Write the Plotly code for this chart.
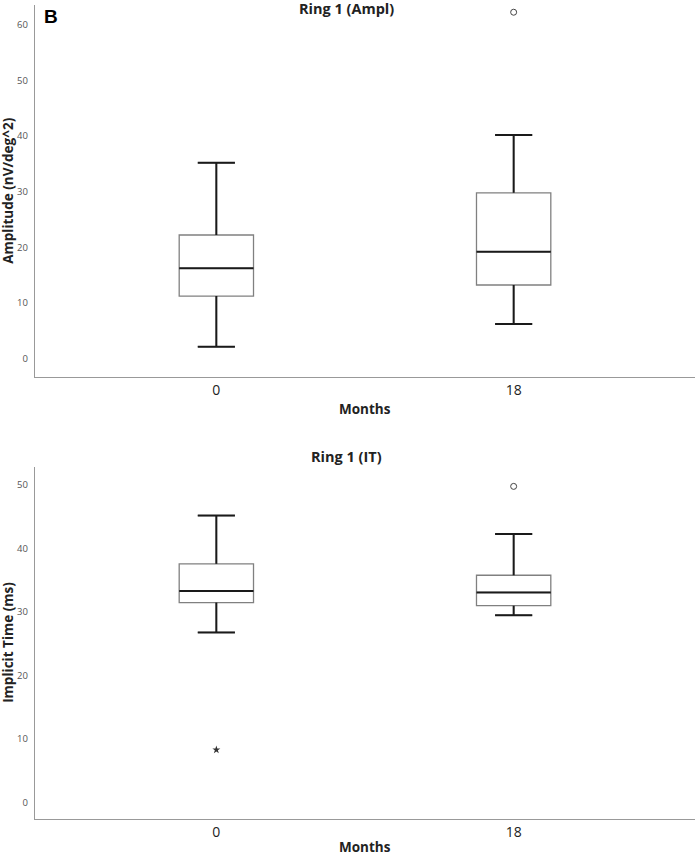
import plotly.graph_objects as go

# ---- data ----
months = ["0", "18"]
# Ring 1 (Ampl)
ampl_low = [2.1, 6.2]
ampl_q1 = [11.2, 13.2]
ampl_med = [16.2, 19.2]
ampl_q3 = [22.2, 29.8]
ampl_high = [35.2, 40.2]
ampl_outliers = [None, 62.3]
ampl_extremes = [None, None]
# Ring 1 (IT)
it_low = [26.8, 29.5]
it_q1 = [31.5, 31.0]
it_med = [33.3, 33.1]
it_q3 = [37.6, 35.8]
it_high = [45.2, 42.3]
it_outliers = [None, 49.8]
it_extremes = [8.3, None]

BOX_W = 0.25
CAP_HALF = BOX_W / 4

fig = go.Figure()


def add_panel(low, q1, med, q3, high, outl, extr, xa, ya):
    xs = list(range(len(months)))
    fig.add_trace(go.Box(
        x=xs, q1=q1, median=med, q3=q3, lowerfence=low, upperfence=high,
        width=BOX_W, whiskerwidth=0.5, fillcolor="white",
        line=dict(color="#808080", width=1.3), boxpoints=False,
        xaxis=xa, yaxis=ya, showlegend=False, hoverinfo="skip"))
    wx, wy = [], []
    for i in xs:
        wx += [i, i, None, i, i, None]
        wy += [q3[i], high[i], None, q1[i], low[i], None]
        wx += [i - CAP_HALF, i + CAP_HALF, None, i - CAP_HALF, i + CAP_HALF, None]
        wy += [high[i], high[i], None, low[i], low[i], None]
        wx += [i - BOX_W / 2, i + BOX_W / 2, None]
        wy += [med[i], med[i], None]
    fig.add_trace(go.Scatter(x=wx, y=wy, mode="lines",
                             line=dict(color="#1a1a1a", width=2),
                             xaxis=xa, yaxis=ya, showlegend=False, hoverinfo="skip"))
    ox = [i for i in xs if outl[i] is not None]
    oy = [outl[i] for i in xs if outl[i] is not None]
    if ox:
        fig.add_trace(go.Scatter(x=ox, y=oy, mode="markers",
                                 marker=dict(symbol="circle-open", size=6, color="#444",
                                             line=dict(width=1)),
                                 xaxis=xa, yaxis=ya, showlegend=False, cliponaxis=False))
    ex = [i for i in xs if extr[i] is not None]
    ey = [extr[i] for i in xs if extr[i] is not None]
    if ex:
        fig.add_trace(go.Scatter(x=ex, y=ey, mode="markers",
                                 marker=dict(symbol="star", size=6, color="#333"),
                                 xaxis=xa, yaxis=ya, showlegend=False))


add_panel(ampl_low, ampl_q1, ampl_med, ampl_q3, ampl_high, ampl_outliers, ampl_extremes, "x", "y")
add_panel(it_low, it_q1, it_med, it_q3, it_high, it_outliers, it_extremes, "x2", "y2")

xcommon = dict(range=[-0.61, 1.61], tickvals=[0, 1], ticktext=months,
               showgrid=False, zeroline=False, showline=True, linecolor="#999999",
               linewidth=1.3, ticks="", tickfont=dict(family="Open Sans", size=14, color="#222"))
ycommon = dict(showgrid=False, zeroline=False, showline=True, linecolor="#999999",
               linewidth=1.3, ticks="", tickfont=dict(family="Open Sans", size=9.5, color="#555"),
               ticklabelstandoff=4)

fig.update_layout(
    width=696, height=857,
    margin=dict(l=35, r=1, t=5, b=38),
    paper_bgcolor="white", plot_bgcolor="white",
    xaxis=dict(domain=[0, 1], anchor="y", **xcommon),
    yaxis=dict(domain=[0.5434, 1], anchor="x", range=[-3.3, 63.6],
               tickvals=[0, 10, 20, 30, 40, 50, 60], **ycommon),
    xaxis2=dict(domain=[0, 1], anchor="y2", **xcommon),
    yaxis2=dict(domain=[0, 0.4328], anchor="x2", range=[-2.6, 52.9],
                tickvals=[0, 10, 20, 30, 40, 50], **ycommon),
)

title_font = dict(family="Open Sans", size=14.5, color="#222")
axis_font = dict(family="Open Sans", size=13.5, color="#222")
ann = [
    dict(text="<b>B</b>", x=0.024, y=0.9853, font=dict(family="Liberation Sans", size=19, color="black"),
         xanchor="center", yanchor="middle"),
    dict(text="<b>Ring 1 (Ampl)</b>", x=0.4727, y=(819 - 8) / 814, font=title_font,
         xanchor="center", yanchor="middle"),
    dict(text="<b>Ring 1 (IT)</b>", x=0.4727, y=(819 - 456) / 814, font=title_font,
         xanchor="center", yanchor="middle"),
    dict(text="<b>Months</b>", x=0.5, y=(819 - 409) / 814, font=axis_font,
         xanchor="center", yanchor="middle"),
    dict(text="<b>Months</b>", x=0.5, y=(819 - 847) / 814, font=axis_font,
         xanchor="center", yanchor="middle"),
    dict(text="<b>Amplitude (nV/deg^2)</b>", x=-0.0409, y=(0.5434 + 1) / 2, textangle=-90,
         font=axis_font, xanchor="center", yanchor="middle"),
    dict(text="<b>Implicit Time (ms)</b>", x=-0.0409, y=0.4328 / 2, textangle=-90,
         font=axis_font, xanchor="center", yanchor="middle"),
]
for a in ann:
    a.update(xref="paper", yref="paper", showarrow=False)
fig.update_layout(annotations=ann)

fig.write_html("out.html", config={"displayModeBar": False},
               post_script="document.body.style.margin='0';document.body.style.overflow='hidden';")
